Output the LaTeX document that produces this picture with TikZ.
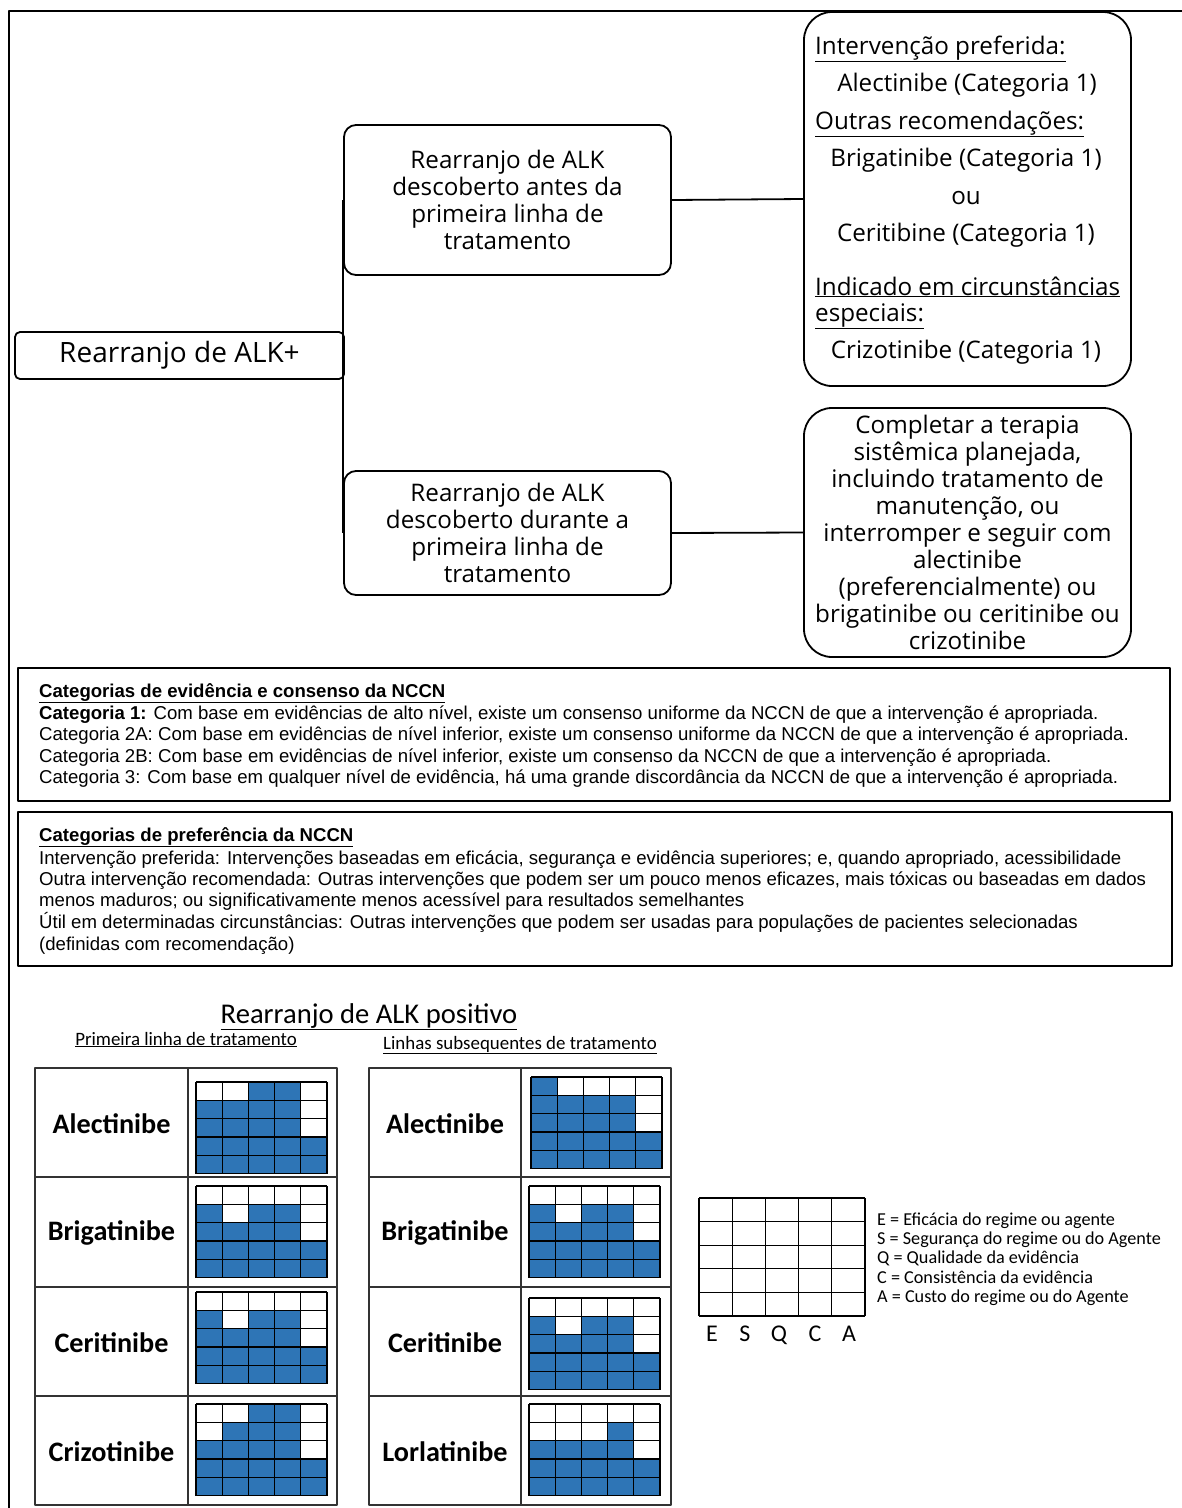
\documentclass[tikz,border=0pt]{standalone}
\usepackage{fontspec}
\setmainfont{Open Sans}
\newfontfamily\arialf{Liberation Sans}
\newfontfamily\calf{Carlito}
\definecolor{esqblue}{RGB}{46,117,182}
\newcommand{\esqgrid}[3]{%
  \foreach \hh [count=\cc from 0] in {#3} {
    \fill[esqblue] ({#1+\cc*26.2},{#2+(5-\hh)*18.3}) rectangle ++(26.2,{\hh*18.3});
  }
  \foreach \ii in {0,...,5} {
    \draw[gridline] ({#1+\ii*26.2},#2) -- ++(0,91.5);
    \draw[gridline] (#1,{#2+\ii*18.3}) -- ++(131,0);
  }
}
\begin{document}
\begin{tikzpicture}[x=1pt,y=-1pt,line join=round,
  frame/.style={line width=2pt},
  roundbox/.style={draw,line width=1.8pt,rounded corners=12pt,inner sep=0pt,align=center},
  bigbox/.style={draw,line width=1.8pt,rounded corners=28pt,inner sep=0pt,align=center},
  flow/.style={font=\fontsize{24.2}{27}\selectfont},
  conn/.style={line width=1.8pt},
  nccnbox/.style={draw,line width=2.4pt,inner sep=0pt},
  nccn/.style={anchor=base west,inner sep=0pt,font=\arialf\fontsize{18.6}{21}\selectfont},
  drug/.style={inner sep=0pt,font=\calf\bfseries\fontsize{28.2}{30}\selectfont},
  tabline/.style={line width=1.5pt,draw=black!80},
  gridline/.style={line width=1.3pt},
  legend/.style={anchor=base west,inner sep=0pt,font=\calf\fontsize{18.2}{19}\selectfont},
  letter/.style={anchor=base,inner sep=0pt,font=\calf\fontsize{24}{26}\selectfont},
  ]
\useasboundingbox (0,0) rectangle (1182,1508);
\fill[white] (0,0) rectangle (1182,1508);
% outer frame
\draw[frame] (9,1508) -- (9,11) -- (1182,11);

% flow chart
\node[roundbox,rounded corners=5pt,minimum width=329pt,minimum height=47pt,font=\fontsize{28}{30}\selectfont] (alk) at (179.5,355.5) {Rearranjo de ALK+};
\node[roundbox,flow,minimum width=327pt,minimum height=150pt] (b1) at (507.5,200) {Rearranjo de ALK\\descoberto antes da\\primeira linha de\\tratamento};
\node[roundbox,flow,minimum width=327pt,minimum height=124pt] (b2) at (507.5,533) {Rearranjo de ALK\\descoberto durante a\\primeira linha de\\tratamento};
\node[bigbox,minimum width=327pt,minimum height=374pt] (r1) at (967.5,199) {};
\node[bigbox,flow,minimum width=327pt,minimum height=249pt] (r2) at (967.5,532.5) {Completar a terapia\\sistêmica planejada,\\incluindo tratamento de\\manutenção, ou\\interromper e seguir com\\alectinibe\\(preferencialmente) ou\\brigatinibe ou ceritinibe ou\\crizotinibe};

\draw[conn] (b1.west) -- (b2.west);
\draw[conn] (b1.east) -- (r1.west);
\draw[conn] (b2.east) -- (r2.west);

\begin{scope}[every node/.style={flow,inner sep=0pt,anchor=base}]
\node[anchor=base west] (t1) at (815,54) {\underline{Intervenção preferida:}};
\node (t2) at (967,91) {Alectinibe (Categoria 1)};
\node[anchor=base west] (t3) at (815,129) {\underline{Outras recomendações:}};
\node (t4) at (966,166) {Brigatinibe (Categoria 1)};
\node (t5) at (966,204) {ou};
\node (t6) at (966,241) {Ceritibine (Categoria 1)};
\node[anchor=base west] (t7) at (815,295) {\underline{Indicado em circunstâncias}};
\node[anchor=base west] (t8) at (815,321) {\underline{especiais:}};
\node (t9) at (966,358) {Crizotinibe (Categoria 1)};
\end{scope}

% NCCN boxes
\node[nccnbox,minimum width=1152pt,minimum height=133pt] (n1) at (594,734.5) {};
\node[nccn] (n1a) at (39,697) {\textbf{\underline{Categorias de evidência e consenso da NCCN}}};
\node[nccn] (n1b) at (39,719) {\textbf{Categoria 1:} Com base em evidências de alto nível, existe um consenso uniforme da NCCN de que a intervenção é apropriada.};
\node[nccn] (n1c) at (39,740) {Categoria 2A: Com base em evidências de nível inferior, existe um consenso uniforme da NCCN de que a intervenção é apropriada.};
\node[nccn] (n1d) at (39,762) {Categoria 2B: Com base em evidências de nível inferior, existe um consenso da NCCN de que a intervenção é apropriada.};
\node[nccn] (n1e) at (39,783) {Categoria 3: Com base em qualquer nível de evidência, há uma grande discordância da NCCN de que a intervenção é apropriada.};

\node[nccnbox,minimum width=1154pt,minimum height=154pt] (n2) at (595,889) {};
\node[nccn] (n2a) at (39,841) {\textbf{\underline{Categorias de preferência da NCCN}}};
\node[nccn] (n2b) at (39,864) {Intervenção preferida: Intervenções baseadas em eficácia, segurança e evidência superiores; e, quando apropriado, acessibilidade};
\node[nccn] (n2c) at (39,885) {Outra intervenção recomendada: Outras intervenções que podem ser um pouco menos eficazes, mais tóxicas ou baseadas em dados};
\node[nccn] (n2d) at (39,906) {menos maduros; ou significativamente menos acessível para resultados semelhantes};
\node[nccn] (n2e) at (39,928) {Útil em determinadas circunstâncias: Outras intervenções que podem ser usadas para populações de pacientes selecionadas};
\node[nccn] (n2f) at (39,950) {(definidas com recomendação)};

% titles
\node[anchor=base,inner sep=0pt,font=\calf\fontsize{28.6}{30}\selectfont] (title) at (369,1023) {\underline{Rearranjo de ALK positivo}};
\node[anchor=base,inner sep=0pt,font=\calf\fontsize{18.9}{20}\selectfont] (sub1) at (186,1045) {\underline{Primeira linha de tratamento}};
\node[anchor=base,inner sep=0pt,font=\calf\fontsize{18.9}{20}\selectfont] (sub2) at (520,1049) {\underline{Linhas subsequentes de tratamento}};

% tables
\draw[tabline] (35,1068) rectangle (337,1505);
\draw[tabline] (188,1068) -- (188,1505);
\draw[tabline] (369,1068) rectangle (671,1505);
\draw[tabline] (521,1068) -- (521,1505);
\foreach \yy in {1177,1287,1396} {
  \draw[tabline] (35,\yy) -- (337,\yy);
  \draw[tabline] (369,\yy) -- (671,\yy);
}
\node[drug] (l1) at (111.5,1124) {Alectinibe};
\node[drug] (l2) at (111.5,1233) {Brigatinibe};
\node[drug] (l3) at (111.5,1343) {Ceritinibe};
\node[drug] (l4) at (111.5,1452) {Crizotinibe};
\node[drug] (m1) at (445,1124) {Alectinibe};
\node[drug] (m2) at (445,1233) {Brigatinibe};
\node[drug] (m3) at (445,1343) {Ceritinibe};
\node[drug] (m4) at (445,1452) {Lorlatinibe};

\esqgrid{196}{1082}{4,4,5,5,2}
\esqgrid{196}{1186}{4,3,4,4,2}
\esqgrid{196}{1292}{4,3,4,4,2}
\esqgrid{196}{1404}{3,4,5,5,2}
\esqgrid{531}{1077}{5,4,4,4,2}
\esqgrid{529}{1186}{4,3,4,4,2}
\esqgrid{529}{1298}{4,3,4,4,2}
\esqgrid{529}{1404}{3,3,3,4,2}

% legend grid
\foreach \ii in {0,...,5} {
  \draw[gridline] ({699+\ii*33.2},1198) -- ++(0,118);
  \draw[gridline] (699,{1198+\ii*23.6}) -- ++(166,0);
}
\node[letter] (le) at (712,1341) {E};
\node[letter] (ls) at (745,1341) {S};
\node[letter] (lq) at (779,1341) {Q};
\node[letter] (lc) at (815,1341) {C};
\node[letter] (la) at (849,1341) {A};
\node[legend] (g1) at (877,1225) {E = Eficácia do regime ou agente};
\node[legend] (g2) at (877,1244) {S = Segurança do regime ou do Agente};
\node[legend] (g3) at (877,1263) {Q = Qualidade da evidência};
\node[legend] (g4) at (877,1283) {C = Consistência da evidência};
\node[legend] (g5) at (877,1302) {A = Custo do regime ou do Agente};
\end{tikzpicture}
\end{document}
